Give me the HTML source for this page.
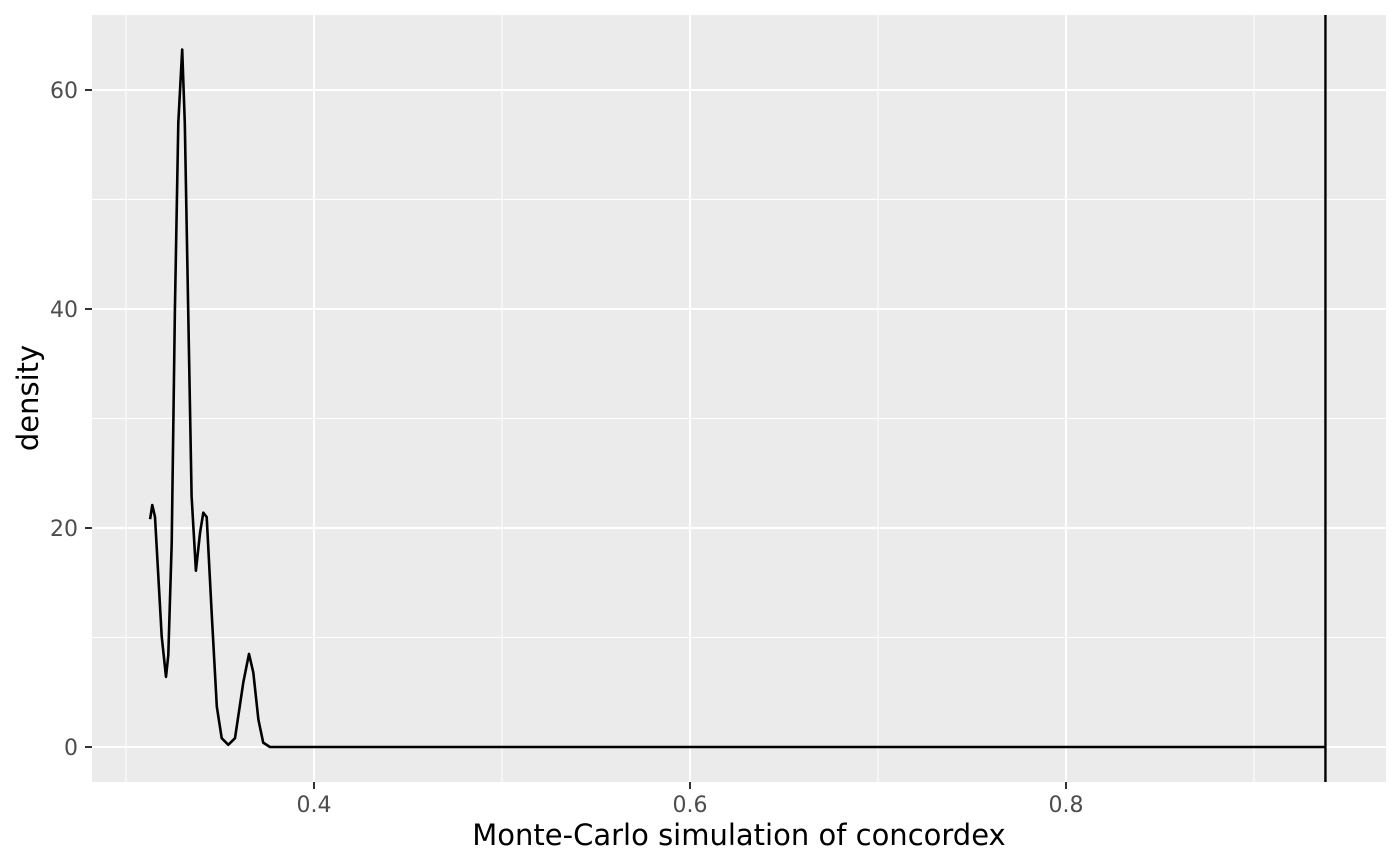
<!DOCTYPE html>
<html><head><meta charset="utf-8"><style>
body{margin:0;background:#fff}
svg{display:block;font-family:"DejaVu Sans","Liberation Sans",sans-serif}
</style></head><body>
<svg id="c" width="1400" height="866"></svg>
<script>
const xVals=[0.3128,0.3140,0.3154,0.3190,0.3213,0.3225,0.3243,0.3260,0.3278,0.3299,0.3313,0.3331,0.3349,0.3372,0.3394,0.3411,0.3429,0.3456,0.3483,0.3509,0.3544,0.3580,0.3624,0.3654,0.3677,0.3704,0.3730,0.3766,0.938];
const yVals=[20.8,22.1,21.0,10.1,6.4,8.4,18.6,39.9,57.0,63.7,57.0,39.9,22.9,16.1,19.6,21.4,21.0,12.2,3.7,0.8,0.2,0.8,5.9,8.5,6.8,2.5,0.4,0,0];
const vlineX=[0.938];
const xTicks=[0.4,0.6,0.8];
const xMinor=[0.3,0.5,0.7,0.9];
const yTicks=[0,20,40,60];
const yMinor=[10,30,50];
const NS="http://www.w3.org/2000/svg";
const svg=document.getElementById('c');
const L=92,R=1386,T=15,B=782;
const sx=v=>126+(v-0.3)*1880;
const sy=v=>747-v*10.95;
function mk(tag,attrs,parent){const e=document.createElementNS(NS,tag);for(const k in attrs)e.setAttribute(k,attrs[k]);(parent||svg).appendChild(e);return e;}
const panel=mk('rect',{x:L,y:T,width:R-L,height:B-T,fill:'#ebebeb'});


yMinor.forEach(v=>{const g=mk('line',{x1:L,x2:R,y1:sy(v),y2:sy(v),stroke:'#fff','stroke-width':1});

});
xMinor.forEach(v=>{const g=mk('line',{x1:sx(v),x2:sx(v),y1:T,y2:B,stroke:'#fff','stroke-width':1});

});
yTicks.forEach(v=>{const g=mk('line',{x1:L,x2:R,y1:sy(v),y2:sy(v),stroke:'#fff','stroke-width':2});


const t=mk('line',{x1:L-7,x2:L,y1:sy(v),y2:sy(v),stroke:'#333','stroke-width':2});


const l=mk('text',{x:L-14,y:sy(v)+8,'text-anchor':'end','font-size':22,fill:'#4d4d4d'});l.textContent=v;

});
xTicks.forEach(v=>{const g=mk('line',{x1:sx(v),x2:sx(v),y1:T,y2:B,stroke:'#fff','stroke-width':2});


const t=mk('line',{x1:sx(v),x2:sx(v),y1:B,y2:B+7,stroke:'#333','stroke-width':2});


const l=mk('text',{x:sx(v),y:812,'text-anchor':'middle','font-size':22,fill:'#4d4d4d'});l.textContent=v;

});
let d='';xVals.forEach((x,i)=>{d+=(i?'L':'M')+sx(x).toFixed(1)+','+sy(yVals[i]).toFixed(1);});
const p=mk('path',{d:d,fill:'none',stroke:'#000','stroke-width':2.6,'stroke-linejoin':'round'});


vlineX.forEach(v=>{const vl=mk('line',{x1:sx(v),x2:sx(v),y1:T,y2:B,stroke:'#000','stroke-width':2.4});

});
const xt=mk('text',{x:739,y:845,'text-anchor':'middle','font-size':29,fill:'#000'});xt.textContent='Monte-Carlo simulation of concordex';


const yt=mk('text',{x:38,y:398,'text-anchor':'middle','font-size':29,fill:'#000',transform:'rotate(-90 38 398)'});yt.textContent='density';


</script>
</body></html>
